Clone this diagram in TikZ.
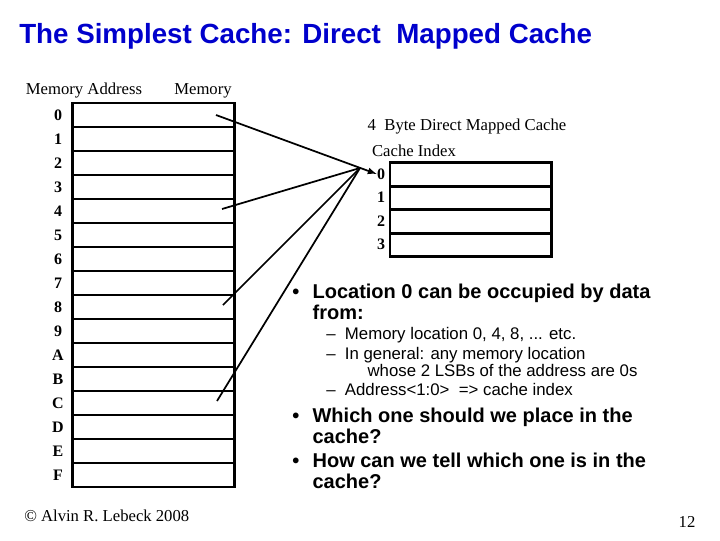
\documentclass[tikz,border=0pt]{standalone}
\usepackage{fontspec}
\setmainfont{Liberation Serif}
\setsansfont{Liberation Sans}
\begin{document}
\begin{tikzpicture}[x=0.75pt,y=-0.75pt,
  lbl/.style={font=\fontsize{12}{13}\selectfont\bfseries, inner sep=0},
  lbln/.style={font=\fontsize{12.5}{13}\selectfont, inner sep=0},
  cell/.style={draw, line width=2.2pt, minimum width=121pt, minimum height=18pt, inner sep=0},
  ccell/.style={draw, line width=2pt, minimum width=121pt, minimum height=17.6pt, inner sep=0},
  big/.style={font=\sffamily\bfseries\fontsize{15}{15.5}\selectfont, align=left, anchor=north west, inner sep=0},
  small/.style={font=\sffamily\fontsize{12.6}{11.5}\selectfont, align=left, anchor=north west, inner sep=0},
  conn/.style={line width=1.3pt}]
\useasboundingbox (0,0) rectangle (720,540);
\node[anchor=west, inner sep=0, text={rgb,255:red,0;green,0;blue,204}, font=\sffamily\bfseries\fontsize{20.8}{22}\selectfont] (title) at (19,36) {The Simplest Cache: Direct\ \ Mapped Cache};
\node[lbln] (ma) at (84,91) {Memory Address};
\node[lbln] (mem) at (203,91) {Memory};
\foreach \a [count=\i from 0] in {0,1,2,3,4,5,6,7,8,9,A,B,C,D,E,F}{
  \node[cell] (m\i) at (153.5,{115+24*\i}) {};
  \node[lbl] (ml\i) at (58,{115+24*\i}) {\a};
}
\node[lbln] (ct) at (467,127) {4\ \ Byte Direct Mapped Cache};
\node[lbln] (ci) at (414,151) {Cache Index};
\foreach \i in {0,1,2,3}{
  \node[ccell] (c\i) at (470.5,{174.5+23.5*\i}) {};
  \node[lbl] (cl\i) at (381,{174+23.5*\i}) {\i};
}
\coordinate (apex) at (360,168);
\coordinate (s0) at (216,115);
\coordinate (s4) at (222,209);
\coordinate (s8) at (223,305);
\coordinate (s12) at (217,401);
\draw[conn,-latex] (s0) -- (cl0.west);
\draw[conn] (s4) -- (apex);
\draw[conn] (s8) -- (apex);
\draw[conn] (s12) -- (apex);
\node[big] (b1) at (292,284) {•\hspace{10pt}\parbox[t]{360pt}{Location 0 can be occupied by data\\from:}};
\node[small] (s1) at (326,327) {–\hspace{7pt}Memory location 0, 4, 8, ... etc.};
\node[small] (s2) at (326,347) {–\hspace{7pt}\parbox[t]{260pt}{In general: any memory location\\\hspace*{17pt}whose 2 LSBs of the address are 0s}};
\node[small] (s3) at (326,383) {–\hspace{7pt}Address<1:0>\ \ => cache index};
\node[big] (b2) at (292,408) {•\hspace{10pt}\parbox[t]{360pt}{Which one should we place in the\\cache?}};
\node[big] (b3) at (292,453) {•\hspace{10pt}\parbox[t]{360pt}{How can we tell which one is in the\\cache?}};
\node[lbln, anchor=west] (copy) at (24,516) {© Alvin R. Lebeck 2008};
\node[lbln] (pg) at (687,522) {12};
\end{tikzpicture}
\end{document}
